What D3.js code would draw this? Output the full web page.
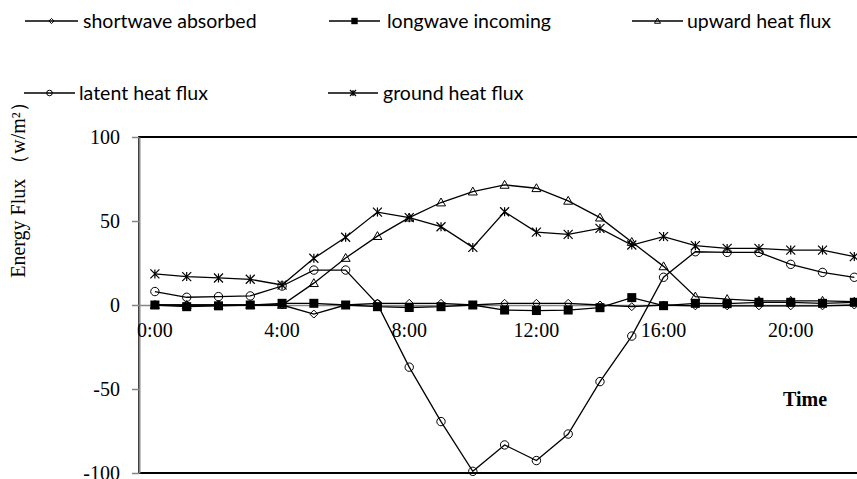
<!DOCTYPE html>
<html>
<head>
<meta charset="utf-8">
<script src="https://cdn.jsdelivr.net/npm/d3@7"></script>
<style>
  body { margin: 0; background: #fff; }
  svg { display: block; }
</style>
</head>
<body>
<div id="vis"></div>
<script>
// hourly categories (the last one is off the visible part of the chart)
const hours = ["0:00","1:00","2:00","3:00","4:00","5:00","6:00","7:00","8:00","9:00","10:00","11:00",
               "12:00","13:00","14:00","15:00","16:00","17:00","18:00","19:00","20:00","21:00","22:00","23:00"];
const tickHours = ["0:00","4:00","8:00","12:00","16:00","20:00"];
const yTicks = [-100, -50, 0, 50, 100];

const seriesNames = ["shortwave absorbed", "longwave incoming", "upward heat flux", "latent heat flux", "ground heat flux"];
const shortwave = [0, 0, 0, 0, 0, -5.4, 0, 1, 1, 1, 0, 1, 1, 1, 0, -1, 0, -0.5, -0.5, -0.5, -0.5, -0.5, 0];
const longwave  = [0, -1, -0.5, 0, 1, 1, 0, -1, -1.5, -1, 0, -3, -3.3, -3, -1.6, 4.4, -0.4, 1, 0.8, 1.6, 1.6, 1, 1.6];
const upward    = [0, 0, 0, 0, 0, 13, 28, 41, 52, 61, 67.5, 71.5, 69.5, 62, 52, 37.5, 23, 5, 3.5, 2.5, 2.5, 2.5, 2];
const latent    = [8, 4.6, 5, 5.4, 11.3, 20.8, 20.8, 0.5, -37, -69.4, -99, -83.3, -92.6, -76.8, -45.6, -18.5, 16.5, 31.7, 31.3, 31.3, 24.2, 19.4, 16.5];
const ground    = [18.5, 16.9, 16.1, 15.3, 11.9, 27.8, 40.3, 55.3, 52, 46.6, 34.3, 55.5, 43.4, 42, 45.6, 35.7, 40.7, 35.3, 33.7, 33.7, 32.7, 32.7, 28.8];

const serif = '"Liberation Serif", "Times New Roman", Times, serif';
const sans = 'Lato, "Open Sans", "Noto Sans", sans-serif';

const svg = d3.select("#vis").append("svg")
    .attr("width", 857).attr("height", 479)
    .style("overflow", "hidden");

const x = d3.scaleBand().domain(hours).range([139, 902]);
const y = d3.scaleLinear().domain([-100, 100]).range([473, 137]);
const px = i => x(hours[i]) + x.bandwidth() / 2;

// plot area frame
svg.append("rect")
    .attr("x", 139).attr("y", y(100))
    .attr("width", 902 - 139).attr("height", y(-100) - y(100))
    .attr("fill", "none").attr("stroke", "#000").attr("stroke-width", 2);

// y axis
const yAxis = svg.append("g")
    .attr("transform", "translate(139,0)")
    .call(d3.axisLeft(y).tickValues(yTicks).tickSize(7).tickSizeOuter(0).tickPadding(12).tickFormat(d => String(d)));
yAxis.select(".domain").attr("stroke", "#868686").attr("stroke-width", 2);
yAxis.selectAll(".tick line").attr("stroke", "#868686").attr("stroke-width", 1.5);
yAxis.selectAll(".tick text").style("font-family", serif).style("font-size", "20px").attr("fill", "#000");

// x axis along zero
const xAxis = svg.append("g")
    .attr("transform", "translate(0," + y(0) + ")")
    .call(d3.axisBottom(x).tickValues(tickHours).tickSize(0).tickSizeOuter(0).tickPadding(18));
xAxis.select(".domain").attr("stroke", "#868686").attr("stroke-width", 1.5);
xAxis.selectAll(".tick text").style("font-family", serif).style("font-size", "20px").attr("fill", "#000");

// marker shapes
function marker(g, type, cx, cy, s) {
    if (type === "diamond") {
        g.append("path").attr("d", `M${cx},${cy - s}L${cx + s},${cy}L${cx},${cy + s}L${cx - s},${cy}Z`)
            .attr("fill", "none").attr("stroke", "#000").attr("stroke-width", 1);
    } else if (type === "square") {
        g.append("rect").attr("x", cx - s).attr("y", cy - s).attr("width", 2 * s).attr("height", 2 * s)
            .attr("fill", "#000");
    } else if (type === "triangle") {
        g.append("path").attr("d", `M${cx},${cy - s}L${cx + s},${cy + s * 0.75}L${cx - s},${cy + s * 0.75}Z`)
            .attr("fill", "none").attr("stroke", "#000").attr("stroke-width", 1);
    } else if (type === "circle") {
        g.append("circle").attr("cx", cx).attr("cy", cy).attr("r", s)
            .attr("fill", "none").attr("stroke", "#000").attr("stroke-width", 1);
    } else if (type === "star") {
        g.append("path").attr("d",
            `M${cx - s},${cy - s}L${cx + s},${cy + s}M${cx - s},${cy + s}L${cx + s},${cy - s}M${cx},${cy - s}L${cx},${cy + s}`)
            .attr("stroke", "#000").attr("stroke-width", 1.2);
    }
}

const series = [
    { name: seriesNames[2], values: upward, type: "triangle", size: 4.5 },
    { name: seriesNames[0], values: shortwave, type: "diamond", size: 4 },
    { name: seriesNames[1], values: longwave, type: "square", size: 4.5 },
    { name: seriesNames[3], values: latent, type: "circle", size: 4.2 },
    { name: seriesNames[4], values: ground, type: "star", size: 4.5 }
];

const line = d3.line().x((d, i) => px(i)).y(d => y(d));

series.forEach(s => {
    const g = svg.append("g");
    g.append("path").attr("d", line(s.values))
        .attr("fill", "none").attr("stroke", "#000").attr("stroke-width", 1.3);
    s.values.forEach((v, i) => marker(g, s.type, px(i), y(v), s.size));
});

// legend
const legend = [
    { name: seriesNames[0], type: "diamond", x0: 25, x1: 78, tx: 83, ly: 21, ty: 27.5, size: 2.6 },
    { name: seriesNames[1], type: "square", x0: 329, x1: 380, tx: 387, ly: 21, ty: 27.5, size: 3.2 },
    { name: seriesNames[2], type: "triangle", x0: 632, x1: 683, tx: 687, ly: 21, ty: 27.5, size: 3 },
    { name: seriesNames[3], type: "circle", x0: 24, x1: 75, tx: 79, ly: 93, ty: 99.5, size: 2.8 },
    { name: seriesNames[4], type: "star", x0: 328, x1: 378, tx: 383, ly: 93, ty: 99.5, size: 3 }
];
legend.forEach(d => {
    const g = svg.append("g");
    g.append("line").attr("x1", d.x0).attr("x2", d.x1).attr("y1", d.ly).attr("y2", d.ly)
        .attr("stroke", "#000").attr("stroke-width", 1.3);
    marker(g, d.type, (d.x0 + d.x1) / 2, d.ly, d.size);
    g.append("text").attr("x", d.tx).attr("y", d.ty)
        .style("font-family", sans).style("font-size", "19.5px").attr("fill", "#000")
        .text(d.name);
});

// axis titles
svg.append("text")
    .attr("transform", "translate(25,185) rotate(-90)")
    .attr("text-anchor", "middle")
    .style("font-family", serif).style("font-size", "20px").attr("fill", "#000")
    .text("Energy Flux （w/m²）");

svg.append("text")
    .attr("x", 805).attr("y", 406)
    .attr("text-anchor", "middle")
    .style("font-family", serif).style("font-size", "20px").style("font-weight", "bold").attr("fill", "#000")
    .text("Time");
</script>
</body>
</html>
